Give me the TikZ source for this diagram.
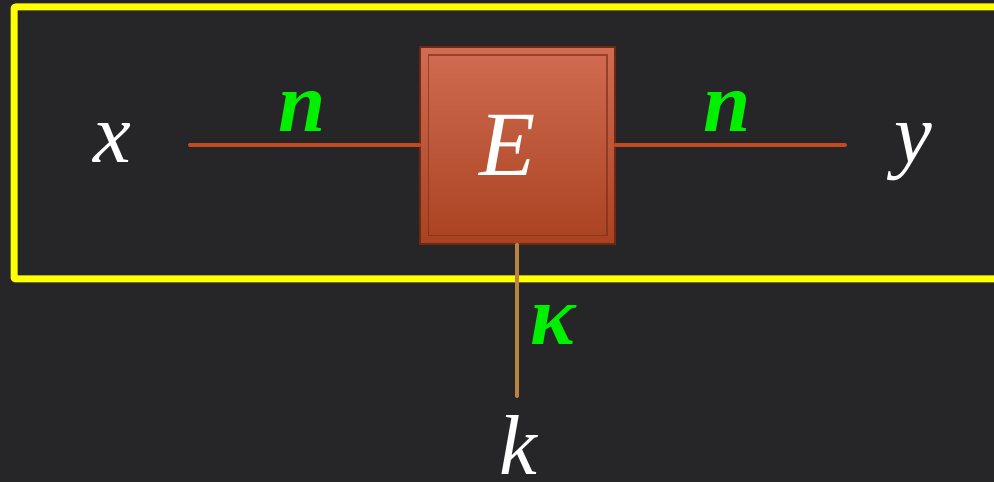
\documentclass[tikz,border=0pt]{standalone}
\usepackage{fontspec}
\setmainfont{Liberation Serif}
\definecolor{bgc}{RGB}{38,38,40}
\definecolor{wirec}{RGB}{196,72,32}
\definecolor{keyc}{RGB}{184,132,64}
\definecolor{boxtop}{RGB}{210,108,82}
\definecolor{boxbot}{RGB}{168,66,32}
\definecolor{boxedge}{RGB}{110,40,20}
\definecolor{lblgreen}{RGB}{0,240,0}
\definecolor{frameyellow}{RGB}{255,255,0}
\tikzset{
  wire/.style={draw=wirec, line width=4pt, line cap=round},
  keywire/.style={draw=keyc, line width=4pt, line cap=round},
  varlbl/.style={text=white, font=\fontsize{85}{90}\selectfont\itshape, inner sep=0pt, anchor=base},
  dimlbl/.style={text=lblgreen, font=\fontsize{85}{90}\selectfont\bfseries\itshape, inner sep=0pt, anchor=base},
  encbox/.style={minimum width=195pt, minimum height=197pt, inner sep=0pt, draw=boxedge, line width=1.5pt,
     top color=boxtop, bottom color=boxbot},
}
\begin{document}
\begin{tikzpicture}[x=1pt,y=1pt]
\useasboundingbox (0,0) rectangle (994,482);
\fill[bgc] (0,0) rectangle (994,482);
\clip (0,0) rectangle (994,482);
\draw[frameyellow, line width=7pt, rounded corners=2pt] (14,203) rectangle (1010,475);
\node[encbox] (E) at (517.5,336.5) {};
\draw[boxedge!70!boxbot, line width=1.5pt, opacity=0.7] ([shift={(9,9)}]E.south west) rectangle ([shift={(-9,-9)}]E.north east);
\node[varlbl, font=\fontsize{92}{96}\selectfont\itshape] (Et) at (508,306) {E};
\coordinate (xl) at (190,337);
\coordinate (yr) at (845,337);
\coordinate (kb) at (517,86);
\draw[wire] (xl) -- (E.west |- xl);
\draw[wire] (E.east |- yr) -- (yr);
\draw[keywire] (E.south -| kb) -- (kb);
\node[varlbl] (x) at (112,319) {x};
\node[varlbl] (y) at (913,319) {y};
\node[varlbl] (k) at (518,7) {k};
\node[dimlbl] (n1) at (302,350) {n};
\node[dimlbl] (n2) at (727,350) {n};
\node[dimlbl] (kap) at (553,137) {κ};
\end{tikzpicture}
\end{document}
